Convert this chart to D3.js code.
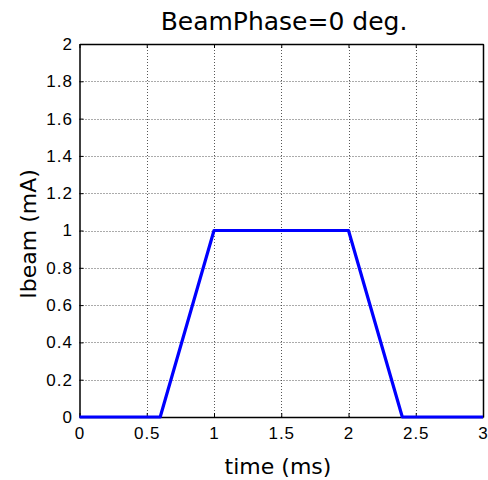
<!DOCTYPE html>
<html><head><meta charset="utf-8">
<script src="https://cdn.jsdelivr.net/npm/d3@7"></script>
<style>body{margin:0;background:#fff}svg{display:block}text{fill:#000}</style>
</head><body>
<script>
const timeMs = [0, 0.6, 1.0, 2.0, 2.4, 3.0];
const ibeam = [0, 0, 1, 1, 0, 0];
const xTicks = [0, 0.5, 1, 1.5, 2, 2.5, 3];
const yTicks = [0, 0.2, 0.4, 0.6, 0.8, 1, 1.2, 1.4, 1.6, 1.8, 2];
const title = "BeamPhase=0 deg.";
const xLabel = "time (ms)";
const yLabel = "Ibeam (mA)";

const W = 488, H = 480;
const m = {l: 79.5, r: 483, t: 44, b: 417};
const svg = d3.select("body").append("svg").attr("width", W).attr("height", H);
const x = d3.scaleLinear().domain([0, 3]).range([m.l, m.r]);
const y = d3.scaleLinear().domain([0, 2]).range([m.b, m.t]);

// grid
const g = svg.append("g");
g.selectAll(".gx").data(xTicks.slice(1, -1)).join("line")
  .attr("x1", d => Math.round(x(d)) + 0.5).attr("x2", d => Math.round(x(d)) + 0.5)
  .attr("y1", m.t).attr("y2", m.b)
  .attr("stroke", "#444").attr("stroke-width", 0.9).attr("stroke-dasharray", "1,2");
g.selectAll(".gy").data(yTicks.slice(1, -1)).join("line")
  .attr("y1", d => Math.round(y(d)) + 0.5).attr("y2", d => Math.round(y(d)) + 0.5)
  .attr("x1", m.l).attr("x2", m.r)
  .attr("stroke", "#444").attr("stroke-width", 0.9).attr("stroke-dasharray", "1,2");

// axes (ticks inside)
const fmt = d => String(d);
const axB = svg.append("g").attr("transform", `translate(0,${m.b})`)
  .call(d3.axisBottom(x).tickValues(xTicks).tickFormat(fmt).tickSizeInner(-4).tickSizeOuter(0).tickPadding(10));
const axT = svg.append("g").attr("transform", `translate(0,${m.t})`)
  .call(d3.axisTop(x).tickValues(xTicks).tickFormat("").tickSizeInner(-4).tickSizeOuter(0));
const axL = svg.append("g").attr("transform", `translate(${m.l},0)`)
  .call(d3.axisLeft(y).tickValues(yTicks).tickFormat(fmt).tickSizeInner(-4).tickSizeOuter(0).tickPadding(6.5));
const axR = svg.append("g").attr("transform", `translate(${m.r},0)`)
  .call(d3.axisRight(y).tickValues(yTicks).tickFormat("").tickSizeInner(-4).tickSizeOuter(0));
[axB, axT, axL, axR].forEach(a => {
  a.selectAll("path").attr("stroke", "#000").attr("stroke-width", 1.5);
  a.selectAll("line").attr("stroke", "#000").attr("stroke-width", 1);
  a.selectAll("text").style("font-size", "17px").style("font-family", "'Liberation Sans',Arial,sans-serif")
    .style("letter-spacing", "1px").attr("fill", "#000");
});
axB.selectAll("text").attr("dy", "0.71em");

// line
const line = d3.line().x((d, i) => x(timeMs[i])).y((d, i) => y(ibeam[i]));
svg.append("path").datum(ibeam).attr("d", line)
  .attr("fill", "none").attr("stroke", "#0000ff").attr("stroke-width", 3.2).attr("stroke-linejoin", "round");

// labels
const lf = "'DejaVu Sans',sans-serif";
svg.append("text").attr("x", 284).attr("y", 30).attr("text-anchor", "middle")
  .style("font-family", lf).style("font-size", "25px").text(title);
svg.append("text").attr("x", 278).attr("y", 474).attr("text-anchor", "middle")
  .style("font-family", lf).style("font-size", "22px").text(xLabel);
svg.append("text").attr("transform", `translate(36,234) rotate(-90)`)
  .attr("text-anchor", "middle").style("font-family", lf).style("font-size", "22px").text(yLabel);
</script>
</body></html>
